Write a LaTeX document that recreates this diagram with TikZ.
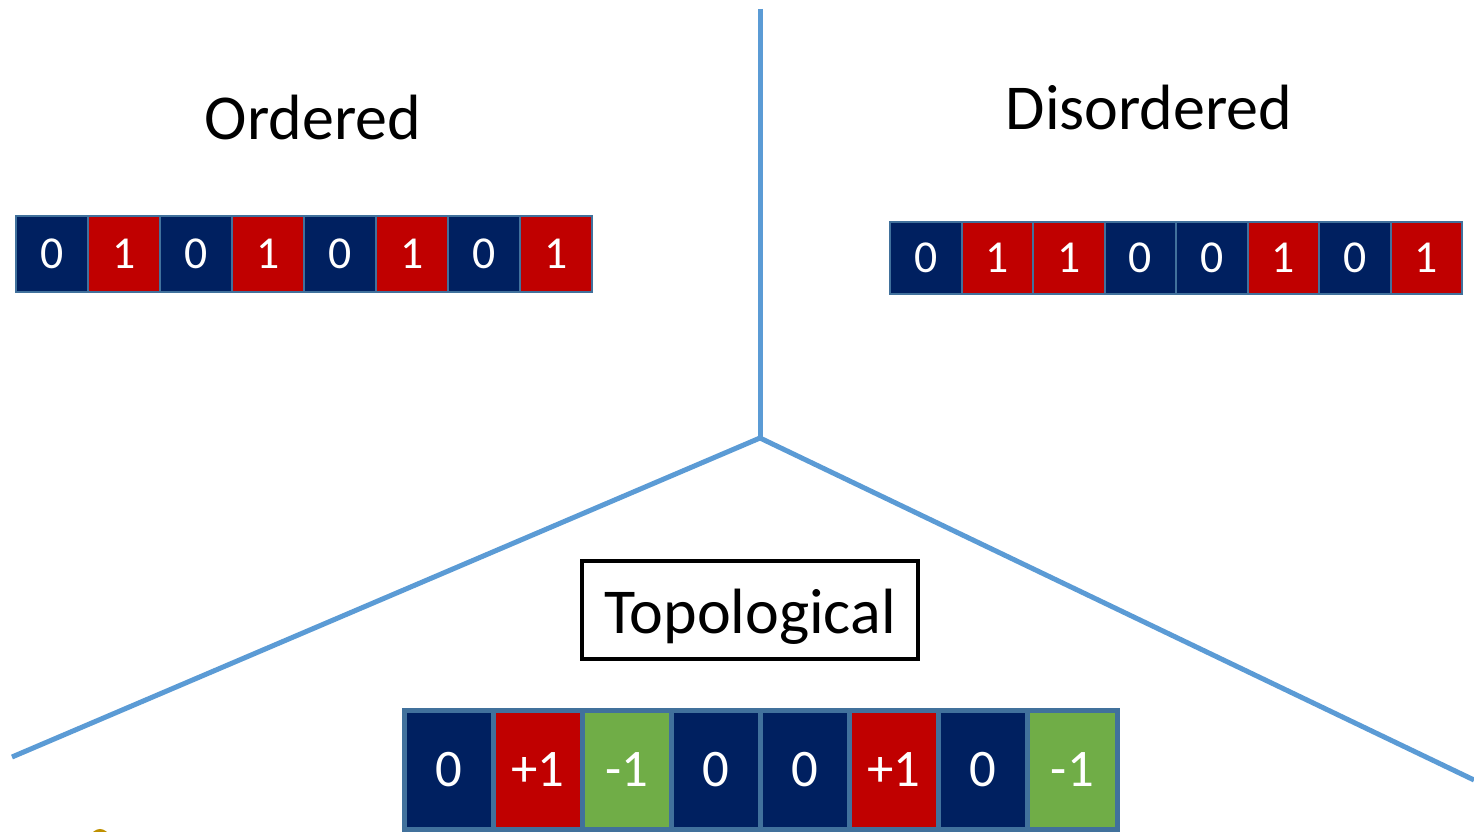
\documentclass[tikz,border=0pt]{standalone}
\usepackage{fontspec}
\setmainfont{Carlito}
\usepackage{tikz}

\definecolor{navy}{HTML}{002060}
\definecolor{darkred}{HTML}{C00000}
\definecolor{leaf}{HTML}{70AD47}
\definecolor{edge}{HTML}{41719C}
\definecolor{branch}{HTML}{5B9BD5}
\definecolor{gold}{HTML}{BF9000}

\tikzset{
  cell/.style={draw=edge, line width=0.02cm, text=white, outer sep=0pt,
    minimum width=0.72cm, minimum height=0.76cm, font=\fontsize{13}{15}\selectfont},
  dcell/.style={cell, minimum width=0.715cm, minimum height=0.72cm},
  tcell/.style={cell, line width=0.05cm, minimum width=0.891cm, minimum height=1.18cm,
    font=\fontsize{15}{18}\selectfont},
  title/.style={font=\fontsize{18.2}{22}\selectfont}
}

\begin{document}
\begin{tikzpicture}[x=0.01cm, y=-0.01cm]
\useasboundingbox (0,0) rectangle (1474,831);

\coordinate (top) at (760,9);
\coordinate (centre) at (760,438);
\coordinate (leftend) at (12,757);
\coordinate (rightend) at (1474,780);
\draw[branch, line width=0.05cm] (top) -- (centre);
\draw[branch, line width=0.05cm] (centre) -- (leftend);
\draw[branch, line width=0.05cm] (centre) -- (rightend);

\node[title] (ordered) at (313,118) {Ordered};
\node[title] (disordered) at (1149,108) {Disordered};
\node[title, draw=black, line width=0.04cm, minimum width=3.36cm, minimum height=0.98cm,
  text height=0.5cm, text depth=0.04cm] (topo) at (750,610) {Topological};

% ordered row
\node[cell, fill=navy] (o1) at (52,254) {0};
\node[cell, fill=darkred] (o2) at (124,254) {1};
\node[cell, fill=navy] (o3) at (196,254) {0};
\node[cell, fill=darkred] (o4) at (268,254) {1};
\node[cell, fill=navy] (o5) at (340,254) {0};
\node[cell, fill=darkred] (o6) at (412,254) {1};
\node[cell, fill=navy] (o7) at (484,254) {0};
\node[cell, fill=darkred] (o8) at (556,254) {1};

% disordered row
\node[dcell, fill=navy] (d1) at (925.75,258) {0};
\node[dcell, fill=darkred] (d2) at (997.25,258) {1};
\node[dcell, fill=darkred] (d3) at (1068.75,258) {1};
\node[dcell, fill=navy] (d4) at (1140.25,258) {0};
\node[dcell, fill=navy] (d5) at (1211.75,258) {0};
\node[dcell, fill=darkred] (d6) at (1283.25,258) {1};
\node[dcell, fill=navy] (d7) at (1354.75,258) {0};
\node[dcell, fill=darkred] (d8) at (1426.25,258) {1};

% topological row
\node[tcell, fill=navy] (t1) at (448.6,770) {0};
\node[tcell, fill=darkred] (t2) at (537.7,770) {+1};
\node[tcell, fill=leaf] (t3) at (626.8,770) {-1};
\node[tcell, fill=navy] (t4) at (715.9,770) {0};
\node[tcell, fill=navy] (t5) at (805.1,770) {0};
\node[tcell, fill=darkred] (t6) at (894.2,770) {+1};
\node[tcell, fill=navy] (t7) at (983.3,770) {0};
\node[tcell, fill=leaf] (t8) at (1072.4,770) {-1};

\begin{scope}
\clip (0,0) rectangle (1474,831);
\fill[gold] (100,860) ellipse (0.16cm and 0.31cm);
\end{scope}
\end{tikzpicture}
\end{document}
